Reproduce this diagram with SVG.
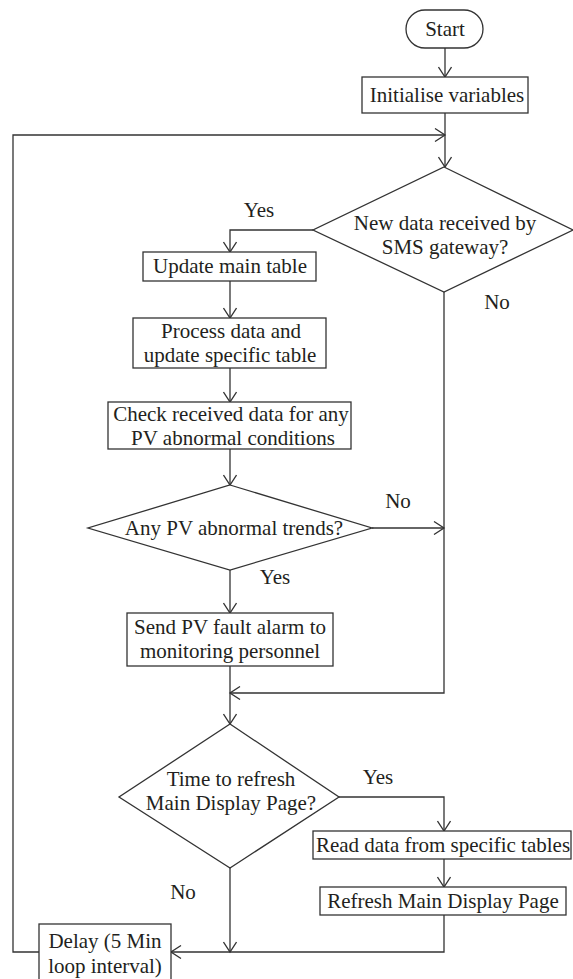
<svg xmlns="http://www.w3.org/2000/svg" width="573" height="979" viewBox="0 0 573 979">
<style>
.s{fill:#fff;stroke:#333;stroke-width:1.3}
.c{fill:none;stroke:#333;stroke-width:1.3}
.a{marker-end:url(#arr)}
text{font-family:"Liberation Serif","Times New Roman",serif;font-size:21px;fill:#231f20;text-anchor:middle}
</style>
<defs>
<marker id="arr" markerUnits="userSpaceOnUse" markerWidth="14" markerHeight="14" viewBox="-11 -7 12 14" refX="0" refY="0" orient="auto">
<path d="M-10,-6.5 L0,0 L-10,6.5" fill="none" stroke="#333" stroke-width="1.3"/>
</marker>
</defs>
<rect width="573" height="979" fill="#fff"/>
<g id="connectors">
<path class="c a" d="M445,48 V77"/>
<path class="c a" d="M445,113 V167"/>
<path class="c a" d="M39,952 H13 V135 H445"/>
<path class="c a" d="M313,230 H230 V252"/>
<path class="c a" d="M230,281 V318"/>
<path class="c a" d="M230,368 V402"/>
<path class="c a" d="M230,449 V485"/>
<path class="c a" d="M372,528 H444"/>
<path class="c a" d="M444,292 V693 H230"/>
<path class="c a" d="M230,570 V613"/>
<path class="c" d="M230,666 V693"/>
<path class="c a" d="M230,693 V724"/>
<path class="c a" d="M339,797 H444 V831"/>
<path class="c a" d="M444,859 V887"/>
<path class="c a" d="M444,915 V952 H171"/>
<path class="c a" d="M230,868 V952"/>
</g>
<g id="start"><rect class="s" x="406" y="10" width="77" height="38" rx="19"/><text x="445" y="36">Start</text></g>
<g id="init"><rect class="s" x="362" y="77" width="166" height="36"/><text x="447" y="102">Initialise variables</text></g>
<g id="d1"><path class="s" d="M444,167 L573,230 L444,292 L313,230 Z"/><text x="445" y="230">New data received by</text><text x="445" y="254">SMS gateway?</text></g>
<g id="update"><rect class="s" x="143" y="252" width="173" height="29"/><text x="230" y="273">Update main table</text></g>
<g id="process"><rect class="s" x="133" y="318" width="193" height="50"/><text x="231" y="338">Process data and</text><text x="230" y="362">update specific table</text></g>
<g id="check"><rect class="s" x="108" y="402" width="243" height="47"/><text x="231" y="421">Check received data for any</text><text x="233" y="445">PV abnormal conditions</text></g>
<g id="d2"><path class="s" d="M230,485 L372,528 L230,570 L88,528 Z"/><text x="234" y="535">Any PV abnormal trends?</text></g>
<g id="send"><rect class="s" x="127" y="613" width="206" height="53"/><text x="230" y="634">Send PV fault alarm to</text><text x="230" y="658">monitoring personnel</text></g>
<g id="d3"><path class="s" d="M230,724 L339,797 L230,868 L119,797 Z"/><text x="231" y="786">Time to refresh</text><text x="231" y="810">Main Display Page?</text></g>
<g id="read"><rect class="s" x="313" y="831" width="258" height="28"/><text x="443" y="852">Read data from specific tables</text></g>
<g id="refresh"><rect class="s" x="320" y="887" width="246" height="28"/><text x="443" y="908">Refresh Main Display Page</text></g>
<g id="delay"><rect class="s" x="39" y="924" width="132" height="60"/><text x="105" y="948">Delay (5 Min</text><text x="105" y="973">loop interval)</text></g>
<g id="labels">
<text x="259" y="217">Yes</text>
<text x="497" y="309">No</text>
<text x="398" y="508">No</text>
<text x="275" y="584">Yes</text>
<text x="378" y="784">Yes</text>
<text x="183" y="899">No</text>
</g>
</svg>
